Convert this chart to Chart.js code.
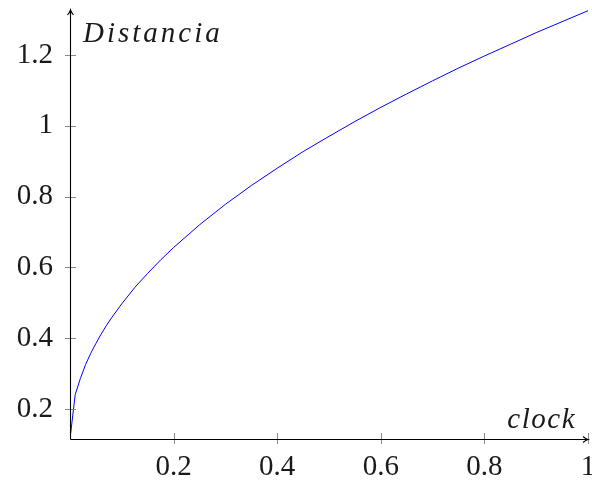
<!DOCTYPE html>
<html>
<head>
<meta charset="utf-8">
<script src="https://cdn.jsdelivr.net/npm/chart.js@4.4.1/dist/chart.umd.min.js"></script>
<style>
  body { margin: 0; background: #fff; }
</style>
</head>
<body>
<canvas id="distChart" width="592" height="483"></canvas>
<script>
// values
const clockValues = [0, 0.01, 0.02, 0.03, 0.04, 0.05, 0.06, 0.07, 0.08, 0.1, 0.125, 0.15, 0.175, 0.2,
  0.25, 0.3, 0.35, 0.4, 0.45, 0.5, 0.55, 0.6, 0.65, 0.7, 0.75, 0.8, 0.85, 0.9, 0.95, 1];
const distValues = [0.115, 0.24, 0.286, 0.325, 0.357, 0.385, 0.411, 0.435, 0.457, 0.497, 0.543, 0.583, 0.621, 0.656,
  0.72, 0.778, 0.831, 0.88, 0.927, 0.97, 1.012, 1.052, 1.09, 1.127, 1.163, 1.197, 1.23, 1.263, 1.294, 1.325];

const xTicks = [0.2, 0.4, 0.6, 0.8, 1];
const yTicks = [0.2, 0.4, 0.6, 0.8, 1, 1.2];

const xTitle = 'clock';
const yTitle = 'Distancia';

const labelFont = { family: "'Liberation Serif', serif", size: 29 };
const textColor = '#1a1a1a';

// axis lines with arrows, crossing tick marks and the axis titles
const axisDecor = {
  id: 'axisDecor',
  afterDraw(chart) {
    const { ctx, chartArea: a, scales: { x, y } } = chart;
    const line = (x1, y1, x2, y2) => { ctx.beginPath(); ctx.moveTo(x1, y1); ctx.lineTo(x2, y2); ctx.stroke(); };
    ctx.save();
    ctx.lineWidth = 1;
    ctx.strokeStyle = '#8a8a8a';
    yTicks.forEach(v => {
      const py = Math.round(y.getPixelForValue(v)) + 0.5;
      line(a.left - 5, py, a.left + 6, py);
    });
    xTicks.forEach(v => {
      const px = Math.round(x.getPixelForValue(v)) + 0.5;
      line(px, a.bottom - 6, px, a.bottom + 5);
    });

    const ox = Math.round(a.left) + 0.5, oy = Math.round(a.bottom) + 0.5;
    ctx.strokeStyle = '#000';
    ctx.lineWidth = 1.1;
    line(ox, oy, ox, a.top);
    line(ox, oy, a.right, oy);
    // arrow heads
    ctx.beginPath();
    ctx.moveTo(ox - 3, a.top + 5);
    ctx.quadraticCurveTo(ox - 0.5, a.top + 2, ox, a.top);
    ctx.quadraticCurveTo(ox + 0.5, a.top + 2, ox + 3, a.top + 5);
    ctx.stroke();
    ctx.beginPath();
    ctx.moveTo(a.right - 5, oy - 3);
    ctx.quadraticCurveTo(a.right - 2, oy - 0.5, a.right, oy);
    ctx.quadraticCurveTo(a.right - 2, oy + 0.5, a.right - 5, oy + 3);
    ctx.stroke();

    ctx.fillStyle = textColor;
    ctx.font = "italic 29px 'Liberation Serif', serif";
    ctx.textBaseline = 'alphabetic';
    ctx.letterSpacing = '3px';
    ctx.textAlign = 'left';
    ctx.fillText(yTitle, a.left + 13, 42);
    ctx.letterSpacing = '1.5px';
    ctx.textAlign = 'right';
    ctx.fillText(xTitle, a.right - 12, 428);
    ctx.restore();
  }
};

const ctx = document.getElementById('distChart').getContext('2d');
const distChart = new Chart(ctx, {
  type: 'line',
  data: {
    datasets: [{
      data: clockValues.map((c, i) => ({ x: c, y: distValues[i] })),
      borderColor: '#0000ff',
      borderWidth: 1,
      pointRadius: 0,
      tension: 0,
      fill: false
    }]
  },
  options: {
    responsive: false,
    devicePixelRatio: 1,
    animation: false,
    layout: { padding: { top: 10, right: 4, left: 0, bottom: 0 } },
    plugins: {
      legend: { display: false },
      tooltip: { enabled: false }
    },
    scales: {
      x: {
        type: 'linear',
        min: 0,
        max: 1,
        border: { display: false },
        grid: { display: false, drawTicks: false },
        afterBuildTicks: axis => { axis.ticks = xTicks.map(v => ({ value: v })); },
        afterFit: axis => { axis.height = 44; axis.paddingLeft = 0; axis.paddingRight = 0; },
        ticks: {
          padding: 11,
          maxRotation: 0,
          autoSkip: false,
          color: textColor,
          font: labelFont,
          callback: v => String(v)
        }
      },
      y: {
        type: 'linear',
        min: 0.115,
        max: 1.327,
        border: { display: false },
        grid: { display: false, drawTicks: false },
        afterBuildTicks: axis => { axis.ticks = yTicks.map(v => ({ value: v })); },
        afterFit: axis => { axis.width = 70; axis.paddingTop = 0; axis.paddingBottom = 0; },
        ticks: {
          padding: 17,
          autoSkip: false,
          color: textColor,
          font: labelFont,
          callback: v => String(v)
        }
      }
    }
  },
  plugins: [axisDecor]
});
</script>
</body>
</html>
